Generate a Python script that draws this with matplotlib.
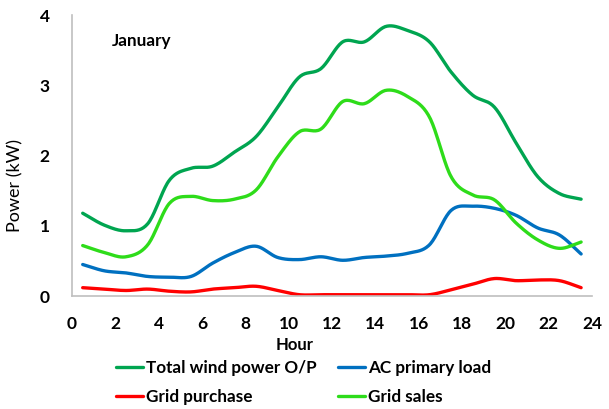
import numpy as np
import matplotlib
matplotlib.use("Agg")
import matplotlib.pyplot as plt

plt.rcParams['font.family'] = ['Lato', 'DejaVu Sans']

hours = [h + 0.5 for h in range(24)]
wind_total = [1.18, 1.01, 0.93, 1.03, 1.65, 1.82, 1.85, 2.05, 2.27, 2.69, 3.12, 3.24,
              3.62, 3.62, 3.84, 3.78, 3.62, 3.19, 2.86, 2.69, 2.18, 1.70, 1.46, 1.38]
ac_load = [0.45, 0.36, 0.33, 0.28, 0.27, 0.28, 0.47, 0.62, 0.71, 0.55, 0.52, 0.56,
           0.51, 0.55, 0.57, 0.61, 0.73, 1.22, 1.28, 1.25, 1.15, 0.97, 0.87, 0.60]
grid_purchase = [0.12, 0.10, 0.08, 0.10, 0.07, 0.06, 0.10, 0.12, 0.14, 0.08, 0.02, 0.02,
                 0.02, 0.02, 0.02, 0.02, 0.02, 0.09, 0.17, 0.25, 0.22, 0.23, 0.22, 0.12]
grid_sales = [0.72, 0.62, 0.56, 0.73, 1.32, 1.42, 1.36, 1.38, 1.51, 1.98, 2.34, 2.38,
              2.77, 2.74, 2.93, 2.84, 2.55, 1.70, 1.44, 1.37, 1.04, 0.80, 0.68, 0.77]

series = [
    ("Total wind power O/P", wind_total, "#00A550"),
    ("Grid purchase", grid_purchase, "#FF0000"),
    ("AC primary load", ac_load, "#0070C0"),
    ("Grid sales", grid_sales, "#2EDC1A"),
]


def smooth(x, y, n=20):
    # Catmull-Rom style smoothing (as in spreadsheet "smoothed line")
    x = np.asarray(x, float)
    y = np.asarray(y, float)
    px = np.concatenate([[2 * x[0] - x[1]], x, [2 * x[-1] - x[-2]]])
    py = np.concatenate([[2 * y[0] - y[1]], y, [2 * y[-1] - y[-2]]])
    xs, ys = [], []
    t = np.linspace(0, 1, n, endpoint=False)
    for i in range(1, len(px) - 2):
        p0, p1, p2, p3 = py[i - 1], py[i], py[i + 1], py[i + 2]
        q0, q1, q2, q3 = px[i - 1], px[i], px[i + 1], px[i + 2]
        for P, out in (((q0, q1, q2, q3), xs), ((p0, p1, p2, p3), ys)):
            a, b, c, d = P
            out.append(0.5 * ((2 * b) + (-a + c) * t + (2 * a - 5 * b + 4 * c - d) * t ** 2
                              + (-a + 3 * b - 3 * c + d) * t ** 3))
    xs.append([x[-1]])
    ys.append([y[-1]])
    return np.concatenate(xs), np.concatenate(ys)


fig = plt.figure(figsize=(6.09, 4.09), dpi=100)
ax = fig.add_axes([0.118, 0.276, 0.854, 0.687])

handles = []
for name, vals, col in series:
    sx, sy = smooth(hours, vals)
    h, = ax.plot(sx, sy, color=col, lw=2.4, label=name, solid_capstyle='round')
    handles.append(h)

ax.set_xlim(0, 24)
ax.set_ylim(0, 4)
ax.set_xticks(range(0, 25, 2))
ax.set_yticks(range(0, 5))
for s in ['top', 'right']:
    ax.spines[s].set_visible(False)
for s in ['left', 'bottom']:
    ax.spines[s].set_color('#BFBFBF')
    ax.spines[s].set_linewidth(1.2)
ax.tick_params(axis='both', length=0, labelsize=12.5)
ax.tick_params(axis='y', pad=16)
ax.tick_params(axis='x', pad=14)
for lab in ax.get_xticklabels() + ax.get_yticklabels():
    lab.set_fontweight('bold')

ax.text(0.077, 0.907, "January", transform=ax.transAxes, fontsize=12.3,
        fontweight='bold', ha='left', va='center')

fig.text(295 / 609, 1 - 345 / 409, "Hour", ha='center', va='center',
         fontsize=12, fontweight='bold')
fig.text(15 / 609, 1 - 186 / 409, "Power (kW)", rotation=90, ha='center', va='center',
         fontsize=13)

leg = fig.legend(handles=handles, ncol=2, loc='upper left',
                 bbox_to_anchor=(116 / 609, 1 - 360 / 409), frameon=False,
                 prop={'size': 12.3, 'weight': 'bold'}, handlelength=1.6,
                 handletextpad=0.15, columnspacing=1.25, labelspacing=0.78,
                 borderpad=0, borderaxespad=0)

fig.savefig("out.png", dpi=100)
